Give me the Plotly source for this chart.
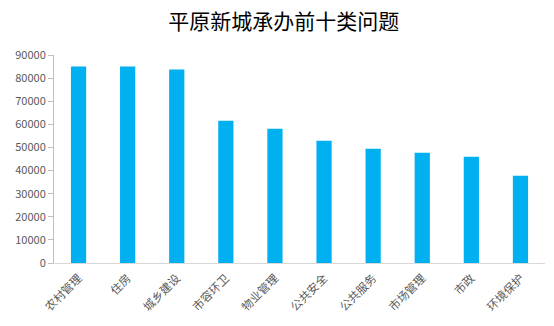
import plotly.graph_objects as go

# 平原新城承办前十类问题：类别与件数
categories = ["农村管理", "住房", "城乡建设", "市容环卫", "物业管理",
              "公共安全", "公共服务", "市场管理", "市政", "环境保护"]
counts = [85000, 85000, 83700, 61600, 58100, 52900, 49400, 47700, 46000, 37700]
y_ticks = [0, 10000, 20000, 30000, 40000, 50000, 60000, 70000, 80000, 90000]

font_family = "Noto Sans CJK SC, Microsoft YaHei, sans-serif"

fig = go.Figure(
    go.Bar(
        x=categories,
        y=counts,
        marker=dict(color="#00B0F0", line=dict(width=0)),
    )
)

fig.update_layout(
    width=554,
    height=326,
    margin=dict(l=54, r=9, t=55, b=63),
    paper_bgcolor="white",
    plot_bgcolor="white",
    bargap=0.69,
    showlegend=False,
    title=dict(
        text="平原新城承办前十类问题",
        x=0.512,
        xanchor="center",
        y=0.935,
        yanchor="middle",
        font=dict(family=font_family, size=21, color="#000000"),
    ),
    font=dict(family=font_family, size=11, color="#595959"),
)

fig.update_xaxes(
    type="category",
    tickangle=-45,
    showline=True,
    linecolor="#D9D9D9",
    linewidth=1,
    ticks="",
    showgrid=False,
    ticklabelstandoff=3,
    tickfont=dict(family=font_family, size=11.5, color="#595959"),
)

fig.update_yaxes(
    range=[0, 90000],
    tickvals=y_ticks,
    ticktext=[str(v) for v in y_ticks],
    showline=True,
    linecolor="#BFBFBF",
    linewidth=1,
    ticks="outside",
    ticklen=5,
    tickcolor="#BFBFBF",
    showgrid=False,
    zeroline=False,
    tickfont=dict(family=font_family, size=11, color="#595959"),
)

fig.write_html("out.html")
